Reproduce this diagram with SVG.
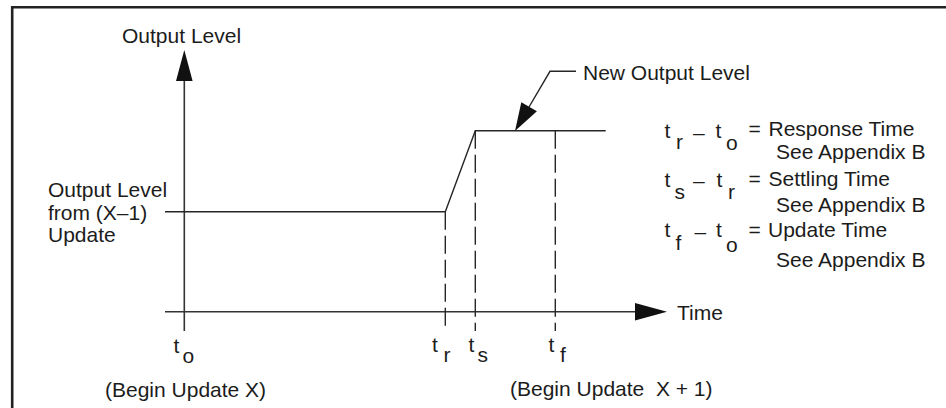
<svg xmlns="http://www.w3.org/2000/svg" width="946" height="408" viewBox="0 0 946 408">
<style>
text{font-family:"Liberation Sans",Arial,sans-serif;font-size:21px;fill:#1c1c1c}
.ln{stroke:#262626;stroke-width:1.4;fill:none}
.ax{stroke:#333;stroke-width:1.6;fill:none}
.ds{stroke:#262626;stroke-width:1.4;fill:none;stroke-dasharray:18 6}
.ah{fill:#111;stroke:none}
.pre{white-space:pre}
</style>
<rect x="0" y="0" width="946" height="408" fill="#fff"/>
<g id="frame">
<path d="M12.2 408 V7.2 H946" stroke="#222" stroke-width="2.6" fill="none"/>
</g>
<g id="connectors">
<line class="ax" x1="184.3" y1="80" x2="184.3" y2="331"/>
<polygon class="ah" points="184.3,50 176,81 192.6,81"/>
<line class="ax" x1="165" y1="311.7" x2="636" y2="311.7"/>
<polygon class="ah" points="667,311.7 635,303 635,320.4"/>
<polyline class="ln" points="165,211.7 445.3,211.7 475.3,130.7 605.7,130.7"/>
<line class="ds" x1="445.3" y1="211.7" x2="445.3" y2="331"/>
<line class="ds" x1="475.3" y1="130.7" x2="475.3" y2="331"/>
<line class="ds" x1="555.3" y1="130.7" x2="555.3" y2="331"/>
<polyline class="ln" points="576,71.3 550,71.3 529,107"/>
<polygon class="ah" points="515,131 521.3,102.3 536.9,111.3"/>
</g>
<g id="y-label"><text x="122" y="43.3">Output Level</text></g>
<g id="old-level-label">
<text x="48" y="197">Output Level</text>
<text x="48" y="219.5">from (X–1)</text>
<text x="48" y="242">Update</text>
</g>
<g id="new-level-label"><text x="583" y="79.5">New Output Level</text></g>
<g id="time-label"><text x="677" y="319.5">Time</text></g>
<g id="tick-labels">
<text x="173.5" y="353">t</text><text x="182.5" y="363">o</text>
<text x="432" y="352">t</text><text x="443.5" y="362">r</text>
<text x="468.5" y="352">t</text><text x="477.5" y="362">s</text>
<text x="548.5" y="352">t</text><text x="560" y="362">f</text>
</g>
<g id="begin-labels">
<text x="105" y="397">(Begin Update X)</text>
<text class="pre" x="510" y="396">(Begin Update  X + 1)</text>
</g>
<g id="legend">
<text x="664.5" y="138.3">t</text><text x="676" y="149">r</text><text x="693" y="139.5">–</text><text x="715.5" y="138.3">t</text><text x="726" y="150">o</text>
<text x="748.5" y="136">=</text><text x="768.5" y="136">Response Time</text>
<text x="776" y="158.5">See Appendix B</text>
<text x="664.5" y="186.7">t</text><text x="674.5" y="198.5">s</text><text x="693" y="188">–</text><text x="716.5" y="186.7">t</text><text x="728" y="198.5">r</text>
<text x="748.5" y="186">=</text><text x="768.5" y="186">Settling Time</text>
<text x="776" y="211.7">See Appendix B</text>
<text x="664.5" y="236.7">t</text><text x="675.5" y="250">f</text><text x="694.5" y="239">–</text><text x="716" y="236.7">t</text><text x="726" y="251.5">o</text>
<text x="748.5" y="236.5">=</text><text x="768" y="236.5">Update Time</text>
<text x="776" y="266.7">See Appendix B</text>
</g>
</svg>
